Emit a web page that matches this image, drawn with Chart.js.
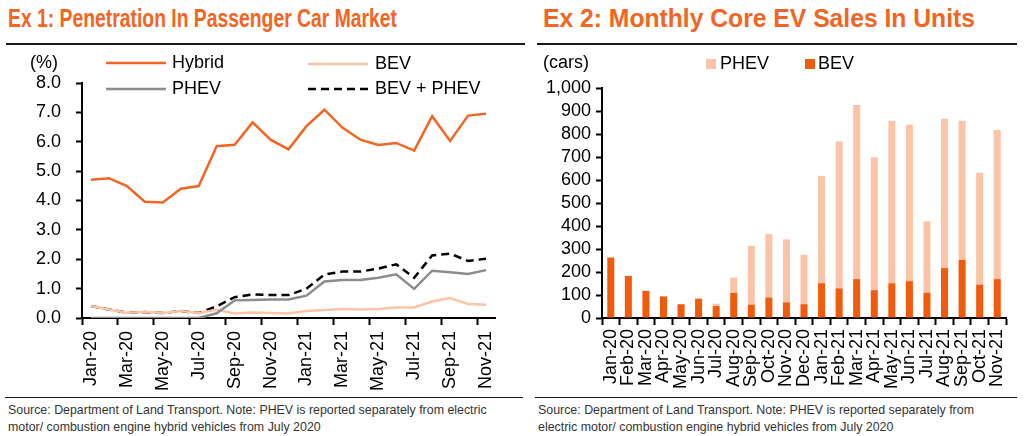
<!DOCTYPE html>
<html>
<head>
<meta charset="utf-8">
<script src="https://cdn.jsdelivr.net/npm/chart.js@4.4.1/dist/chart.umd.min.js"></script>
<style>
html, body { margin: 0; padding: 0; background: #fff; width: 1024px; height: 436px; overflow: hidden; font-family: "Liberation Sans", Arial, sans-serif; }
.title { position: absolute; top: 4px; font-family: "Liberation Sans", Arial, sans-serif; font-weight: bold; font-size: 25px; color: #F26522; white-space: nowrap; transform-origin: 0 0; }
.rule { position: absolute; height: 2px; background: #1a1a1a; }
.note { position: absolute; top: 402px; font-size: 12.4px; line-height: 17px; color: #333; white-space: nowrap; }
canvas { position: absolute; }
</style>
</head>
<body>
<div class="title" id="t1" style="left:8px" data-w="389">Ex 1: Penetration In Passenger Car Market</div>
<div class="title" id="t2" style="left:543px" data-w="432">Ex 2: Monthly Core EV Sales In Units</div>
<div class="rule" style="left:6px; top:43px; width:519px"></div>
<div class="rule" style="left:537px; top:43px; width:480px"></div>

<canvas id="ex1" width="530" height="350" style="left:0; top:48px"></canvas>
<canvas id="ex2" width="494" height="350" style="left:530px; top:48px"></canvas>

<div class="rule" style="left:5px; top:397px; width:518px; height:1px"></div>
<div class="rule" style="left:535px; top:397px; width:482px; height:1px"></div>
<div class="note" style="left:8px">Source: Department of Land Transport. Note: PHEV is reported separately from electric<br>motor/ combustion engine hybrid vehicles from July 2020</div>
<div class="note" style="left:538px">Source: Department of Land Transport. Note: PHEV is reported separately from<br>electric motor/ combustion engine hybrid vehicles from July 2020</div>

<script>
// months shared by both exhibits
const months = ['Jan-20', 'Feb-20', 'Mar-20', 'Apr-20', 'May-20', 'Jun-20', 'Jul-20', 'Aug-20', 'Sep-20', 'Oct-20', 'Nov-20', 'Dec-20',
    'Jan-21', 'Feb-21', 'Mar-21', 'Apr-21', 'May-21', 'Jun-21', 'Jul-21', 'Aug-21', 'Sep-21', 'Oct-21', 'Nov-21'];

// Ex 1: penetration, %
const hybridPct = [4.71, 4.76, 4.49, 3.96, 3.93, 4.40, 4.49, 5.85, 5.90, 6.66, 6.07, 5.74, 6.53, 7.09, 6.48, 6.07, 5.89, 5.96, 5.70, 6.87, 6.03, 6.89, 6.95];
const bevPct = [0.41, 0.29, 0.18, 0.20, 0.17, 0.24, 0.17, 0.28, 0.15, 0.19, 0.17, 0.15, 0.24, 0.27, 0.31, 0.29, 0.31, 0.36, 0.36, 0.56, 0.68, 0.48, 0.45];
const phevPct = [0, 0, 0, 0, 0, 0, 0, 0.16, 0.60, 0.61, 0.63, 0.63, 0.76, 1.24, 1.29, 1.29, 1.37, 1.49, 0.99, 1.61, 1.56, 1.50, 1.63];
const bevPhevPct = [0.41, 0.29, 0.18, 0.20, 0.17, 0.24, 0.17, 0.40, 0.71, 0.80, 0.78, 0.78, 1.00, 1.48, 1.58, 1.58, 1.68, 1.83, 1.37, 2.13, 2.19, 1.94, 2.02];
const pctTicks = ['0.0', '1.0', '2.0', '3.0', '4.0', '5.0', '6.0', '7.0', '8.0'];

// Ex 2: monthly units (cars)
const bevUnits = [263, 183, 118, 94, 60, 84, 52, 109, 58, 89, 68, 60, 151, 129, 169, 121, 151, 160, 110, 217, 253, 145, 169];
const phevUnits = [0, 0, 0, 0, 0, 0, 10, 67, 256, 276, 274, 215, 467, 638, 757, 578, 707, 680, 310, 649, 605, 487, 648];

const FONT = '"Liberation Sans", Arial, sans-serif';
const ORANGE = '#F26522';
const BAR_ORANGE = '#F25A0C';
const PEACH = '#FBC4A6';
const GREY = '#8C8C8C';

// squeeze the headings to the narrow look of the original
document.querySelectorAll('.title').forEach(el => {
    const w = el.getBoundingClientRect().width;
    el.style.transform = 'scaleX(' + (el.dataset.w / w) + ')';
});

// legend + unit caption placed by hand, like the original
const placedLegend = {
    id: 'placedLegend',
    afterDraw(chart, args, opts) {
        const ctx = chart.ctx;
        ctx.save();
        ctx.font = '18px ' + FONT;
        ctx.fillStyle = '#000';
        ctx.textBaseline = 'middle';
        ctx.fillText(opts.unit.text, opts.unit.x, opts.unit.y);
        opts.items.forEach(it => {
            const ds = chart.data.datasets[it.index];
            if (it.box) {
                ctx.fillStyle = ds.backgroundColor;
                ctx.fillRect(it.x, it.y - 5, 10, 10);
            } else {
                ctx.strokeStyle = ds.borderColor;
                ctx.lineWidth = ds.borderWidth;
                ctx.setLineDash(ds.borderDash || []);
                ctx.beginPath();
                ctx.moveTo(it.x, it.y);
                ctx.lineTo(it.x + 60, it.y);
                ctx.stroke();
                ctx.setLineDash([]);
            }
            ctx.fillStyle = '#000';
            ctx.fillText(ds.label, it.tx, it.y);
        });
        ctx.restore();
    }
};

Chart.defaults.font.family = FONT;
Chart.defaults.color = '#000';
Chart.defaults.animation = false;

new Chart(document.getElementById('ex1'), {
    type: 'line',
    data: {
        labels: months,
        datasets: [
            { label: 'Hybrid', data: hybridPct, borderColor: ORANGE, borderWidth: 2.5 },
            { label: 'PHEV', data: phevPct, borderColor: GREY, borderWidth: 2.5 },
            { label: 'BEV', data: bevPct, borderColor: PEACH, borderWidth: 2.5 },
            { label: 'BEV + PHEV', data: bevPhevPct, borderColor: '#000', borderWidth: 2.5, borderDash: [8, 5] },
        ].map(d => Object.assign({ pointRadius: 0, tension: 0, fill: false }, d)),
    },
    options: {
        responsive: false,
        layout: { padding: { top: 35, right: 35, left: 0, bottom: 0 } },
        plugins: {
            legend: { display: false },
            tooltip: { enabled: false },
            placedLegend: {
                unit: { text: '(%)', x: 30, y: 15 },
                items: [
                    { index: 0, x: 106, tx: 172, y: 15 },
                    { index: 1, x: 106, tx: 172, y: 41 },
                    { index: 2, x: 308, tx: 375, y: 16 },
                    { index: 3, x: 308, tx: 375, y: 41 },
                ],
            },
        },
        scales: {
            x: {
                offset: true,
                afterFit: s => { s.height = 80; },
                border: { color: '#000', width: 2 },
                grid: {
                    offset: true,
                    drawOnChartArea: false,
                    tickLength: 7,
                    tickWidth: 2,
                    tickColor: c => (c.index % 2 === 0 && c.index < months.length) ? '#000' : 'rgba(0,0,0,0)',
                },
                ticks: {
                    autoSkip: false,
                    maxRotation: 90,
                    minRotation: 90,
                    padding: 6,
                    font: { size: 18 },
                    callback: (v, i) => (i % 2 === 0 ? months[i] : ''),
                },
            },
            y: {
                min: 0,
                max: 8,
                afterFit: s => { s.width = 82; },
                border: { color: '#000', width: 2 },
                grid: { drawOnChartArea: false, tickLength: 6, tickWidth: 2, tickColor: '#000' },
                ticks: { autoSkip: false, stepSize: 1, padding: 15, font: { size: 18 }, callback: v => pctTicks[v] },
            },
        },
    },
    plugins: [placedLegend],
});

new Chart(document.getElementById('ex2'), {
    type: 'bar',
    data: {
        labels: months,
        datasets: [
            { label: 'BEV', data: bevUnits, backgroundColor: BAR_ORANGE },
            { label: 'PHEV', data: phevUnits, backgroundColor: PEACH },
        ].map(d => Object.assign({ barPercentage: 0.4, categoryPercentage: 1 }, d)),
    },
    options: {
        responsive: false,
        layout: { padding: { top: 40, right: 18, left: 0, bottom: 0 } },
        plugins: {
            legend: { display: false },
            tooltip: { enabled: false },
            placedLegend: {
                unit: { text: '(cars)', x: 13, y: 15 },
                items: [
                    { index: 1, box: true, x: 176, tx: 190, y: 16 },
                    { index: 0, box: true, x: 275, tx: 288, y: 16 },
                ],
            },
        },
        scales: {
            x: {
                stacked: true,
                offset: true,
                afterFit: s => { s.height = 80; },
                border: { color: '#000', width: 2 },
                grid: { offset: true, drawOnChartArea: false, tickLength: 7, tickWidth: 2, tickColor: '#000' },
                ticks: { autoSkip: false, maxRotation: 90, minRotation: 90, padding: 4, font: { size: 18 } },
            },
            y: {
                stacked: true,
                min: 0,
                max: 1000,
                afterFit: s => { s.width = 72; },
                border: { color: '#000', width: 2 },
                grid: { drawOnChartArea: false, tickLength: 6, tickWidth: 2, tickColor: '#000' },
                ticks: { autoSkip: false, stepSize: 100, padding: 5, font: { size: 18 }, callback: v => v.toLocaleString('en-US') },
            },
        },
    },
    plugins: [placedLegend],
});
</script>
</body>
</html>
